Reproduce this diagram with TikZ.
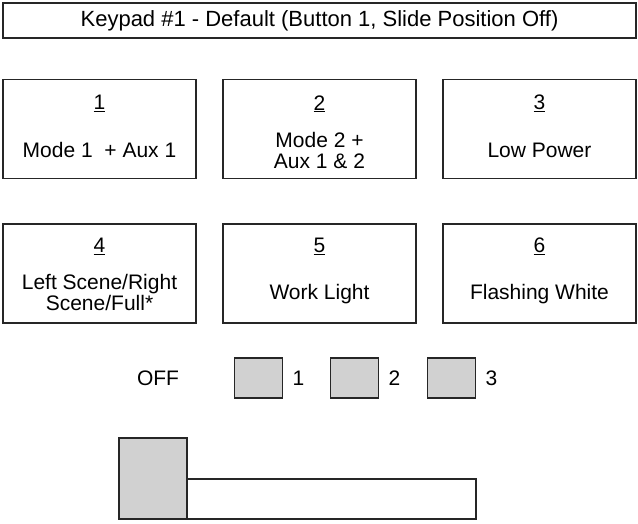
\documentclass[tikz,border=0pt]{standalone}
\usepackage{fontspec}
\setmainfont{Liberation Sans}
\usetikzlibrary{positioning}
\tikzset{
	keybox/.style={draw=black!85,line width=1.6pt,minimum width=193pt,minimum height=99pt,inner sep=0pt},
	keynum/.style={font=\fontsize{21}{22}\selectfont,inner sep=0pt},
	keytext/.style={font=\fontsize{21}{21}\selectfont,align=center,inner sep=0pt},
	btn/.style={draw=black!85,fill=black!18,line width=1.6pt,minimum width=48pt,minimum height=40pt,inner sep=0pt},
}
\begin{document}
\begin{tikzpicture}[x=1pt,y=-1pt]
	\useasboundingbox (0,0) rectangle (638,523);
	\node[draw=black!85,line width=1.6pt,minimum width=633pt,minimum height=35pt,inner sep=0pt,font=\fontsize{22}{24}\selectfont](title) at (319.5,20.5){Keypad \#1 - Default (Button 1, Slide Position Off)};
	% first row
	\node[keybox](k1) at (99.5,129){};
	\node[keybox](k2) at (319.5,129){};
	\node[keybox](k3) at (539.5,129){};
	% second row
	\node[keybox](k4) at (99.5,273.5){};
	\node[keybox](k5) at (319.5,273.5){};
	\node[keybox](k6) at (539.5,273.5){};
	\node[keynum] at ([yshift=-25pt]k1.north){\underline{1}};
	\node[keynum] at ([yshift=-25pt]k2.north){\underline{2}};
	\node[keynum] at ([yshift=-25pt]k3.north){\underline{3}};
	\node[keynum] at ([yshift=-23pt]k4.north){\underline{4}};
	\node[keynum] at ([yshift=-23pt]k5.north){\underline{5}};
	\node[keynum] at ([yshift=-23pt]k6.north){\underline{6}};
	\node[keytext] at ([yshift=-21pt]k1.center){Mode 1\ \ + Aux 1};
	\node[keytext] at ([yshift=-21pt]k2.center){Mode 2 +\\Aux 1 \& 2};
	\node[keytext] at ([yshift=-21pt]k3.center){Low Power};
	\node[keytext] at ([yshift=-19pt]k4.center){Left Scene/Right\\Scene/Full*};
	\node[keytext] at ([yshift=-21pt]k5.center){Work Light};
	\node[keytext] at ([yshift=-21pt]k6.center){Flashing White};
	% slide switch positions
	\node[keytext](off) at (158,378){OFF};
	\node[btn](b1) at (258.5,378){};
	\node[btn](b2) at (354.5,378){};
	\node[btn](b3) at (451.5,378){};
	\node[keytext,right=9pt of b1]{1};
	\node[keytext,right=9pt of b2]{2};
	\node[keytext,right=9pt of b3]{3};
	% slider
	\node[draw=black!85,line width=1.6pt,minimum width=289pt,minimum height=40pt,inner sep=0pt](slot) at (331.5,499){};
	\node[draw=black!85,fill=black!18,line width=1.6pt,minimum width=68pt,minimum height=81pt,inner sep=0pt](knob) at (153,478.5){};
\end{tikzpicture}
\end{document}
